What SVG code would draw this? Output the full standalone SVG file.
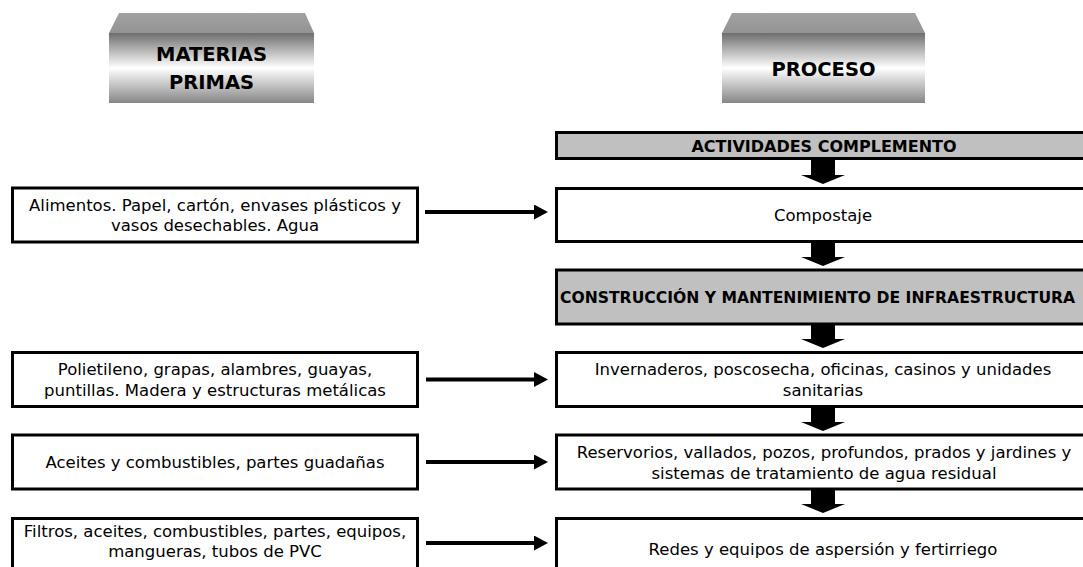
<svg xmlns="http://www.w3.org/2000/svg" width="1083" height="567" viewBox="0 0 1083 567">
<defs>
  <linearGradient id="gFront" x1="0" y1="0" x2="0" y2="1">
    <stop offset="0" stop-color="#6e6e6e"/>
    <stop offset="0.5" stop-color="#ffffff"/>
    <stop offset="1" stop-color="#868686"/>
  </linearGradient>
  <linearGradient id="gTop" x1="0" y1="0" x2="0" y2="1">
    <stop offset="0" stop-color="#a2a2a2"/>
    <stop offset="1" stop-color="#939393"/>
  </linearGradient>
  <marker id="ah" markerUnits="userSpaceOnUse" markerWidth="14" markerHeight="15" viewBox="0 0 14 15" refX="0" refY="7.5" orient="auto">
    <path d="M0,0 L14,7.5 L0,15 z" fill="#000"/>
  </marker>
</defs>
<style>
  .box{fill:#fff;stroke:#000;stroke-width:3}
  .gbox{fill:#c0c0c0;stroke:#000;stroke-width:3}
  .t{font-family:"DejaVu Sans","Liberation Sans",sans-serif;font-size:16.5px;fill:#000;text-anchor:middle}
  .b{font-family:"DejaVu Sans","Liberation Sans",sans-serif;font-weight:bold;font-size:16px;fill:#000;text-anchor:middle}
  .h{font-family:"DejaVu Sans","Liberation Sans",sans-serif;font-weight:bold;font-size:19.5px;fill:#000;text-anchor:middle}
  .front{fill:url(#gFront)}
  .top{fill:url(#gTop)}
  .hl{stroke:#000;stroke-width:4;marker-end:url(#ah)}
  .dl{fill:#000}
</style>
<rect width="1083" height="567" fill="#fff"/>

<g id="hdr-materias">
  <polygon class="top" points="119,13 305,13 314,33 109,33"/>
  <rect class="front" x="109" y="33" width="205" height="70"/>
  <text class="h" x="211.5" y="61">MATERIAS</text>
  <text class="h" x="211.5" y="89">PRIMAS</text>
</g>
<g id="hdr-proceso">
  <polygon class="top" points="732,13 915,13 925,33 722,33"/>
  <rect class="front" x="722" y="33" width="203" height="70"/>
  <text class="h" x="823.5" y="76">PROCESO</text>
</g>

<g id="p-actividades">
  <rect class="gbox" x="556.5" y="132.5" width="536.5" height="26"/>
  <text class="b" x="824" y="151.5">ACTIVIDADES COMPLEMENTO</text>
</g>
<g id="p-compostaje">
  <rect class="box" x="556.5" y="188.5" width="536.5" height="53"/>
  <text class="t" x="823" y="221">Compostaje</text>
</g>
<g id="p-construccion">
  <rect class="gbox" x="556.5" y="270" width="536.5" height="54"/>
  <text class="b" x="560" y="303" style="text-anchor:start;font-size:15.6px">CONSTRUCCIÓN Y MANTENIMIENTO DE INFRAESTRUCTURA</text>
</g>
<g id="p-invernaderos">
  <rect class="box" x="556.5" y="352.5" width="536.5" height="54"/>
  <text class="t" x="823" y="375">Invernaderos, poscosecha, oficinas, casinos y unidades</text>
  <text class="t" x="823" y="396">sanitarias</text>
</g>
<g id="p-reservorios">
  <rect class="box" x="556.5" y="435" width="536.5" height="54"/>
  <text class="t" x="824" y="457.5">Reservorios, vallados, pozos, profundos, prados y jardines y</text>
  <text class="t" x="824" y="478.5">sistemas de tratamiento de agua residual</text>
</g>
<g id="p-redes">
  <rect class="box" x="556.5" y="518.5" width="536.5" height="70"/>
  <text class="t" x="823" y="555">Redes y equipos de aspersión y fertirriego</text>
</g>

<g id="m-alimentos">
  <rect class="box" x="12.5" y="188" width="405" height="54"/>
  <text class="t" x="215" y="210.5">Alimentos. Papel, cartón, envases plásticos y</text>
  <text class="t" x="215" y="230.5">vasos desechables. Agua</text>
</g>
<g id="m-polietileno">
  <rect class="box" x="12.5" y="352.5" width="405" height="54"/>
  <text class="t" x="215" y="375">Polietileno, grapas, alambres, guayas,</text>
  <text class="t" x="215" y="396">puntillas. Madera y estructuras metálicas</text>
</g>
<g id="m-aceites">
  <rect class="box" x="12.5" y="435" width="405" height="54"/>
  <text class="t" x="215" y="468">Aceites y combustibles, partes guadañas</text>
</g>
<g id="m-filtros">
  <rect class="box" x="12.5" y="518.5" width="405" height="70"/>
  <text class="t" x="215" y="537">Filtros, aceites, combustibles, partes, equipos,</text>
  <text class="t" x="215" y="557">mangueras, tubos de PVC</text>
</g>

<g id="connectors">
  <line class="hl" x1="425" y1="212" x2="534" y2="212"/>
  <line class="hl" x1="426" y1="379.5" x2="534" y2="379.5"/>
  <line class="hl" x1="426" y1="462" x2="534" y2="462"/>
  <line class="hl" x1="426" y1="543" x2="534" y2="543"/>
  <polygon class="dl" points="811,160 835,160 835,175 845,175 823,184 801,175 811,175"/>
  <polygon class="dl" points="811,243 835,243 835,257 845,257 823,266 801,257 811,257"/>
  <polygon class="dl" points="811,325 835,325 835,339 845,339 823,348 801,339 811,339"/>
  <polygon class="dl" points="811,408 835,408 835,422 845,422 823,431 801,422 811,422"/>
  <polygon class="dl" points="811,490 835,490 835,504 845,504 823,513 801,504 811,504"/>
</g>
</svg>
